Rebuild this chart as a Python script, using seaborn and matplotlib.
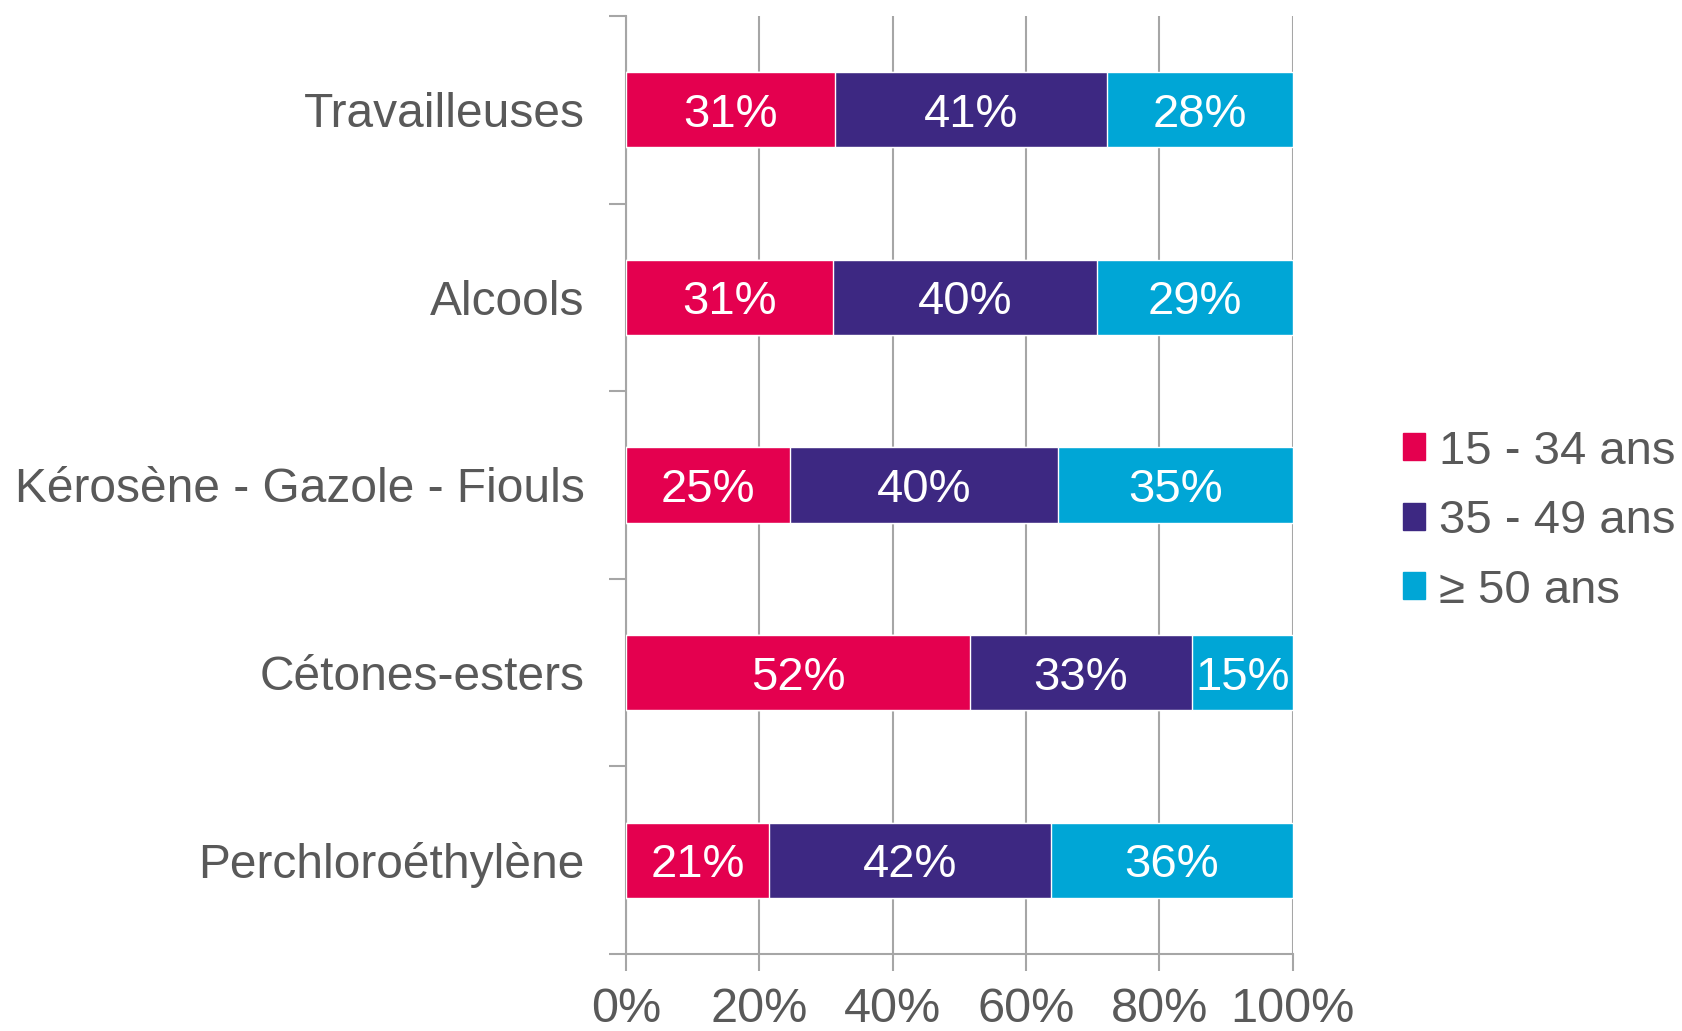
import matplotlib
matplotlib.use("Agg")
import matplotlib.pyplot as plt
import matplotlib.patches as mpatches
from matplotlib.ticker import FixedLocator, PercentFormatter
import seaborn as sns
import numpy as np
import pandas as pd

# Data (percent)
categories = ["Travailleuses", "Alcools", "Kérosène - Gazole - Fiouls",
              "Cétones-esters", "Perchloroéthylène"]
age_15_34 = [31.4, 31.0, 24.6, 51.6, 21.4]
age_35_49 = [40.7, 39.6, 40.2, 33.3, 42.3]
age_50_plus = [27.9, 29.4, 35.2, 15.1, 36.3]
series_names = ["15 - 34 ans", "35 - 49 ans", "≥ 50 ans"]
colors = ["#E4004F", "#3D2882", "#00A6D6"]
x_ticks = [0, 20, 40, 60, 80, 100]

TEXT = "#595959"
GRID = "#A6A6A6"

sns.set_theme(style="white")
plt.rcParams["font.family"] = ["Liberation Sans", "DejaVu Sans"]

series = [age_15_34, age_35_49, age_50_plus]
cum = np.cumsum(np.array(series), axis=0)

fig = plt.figure(figsize=(16.83, 10.31), dpi=100)
ax = fig.add_axes([0.372, 0.0747, 0.396, 0.9098])

# stacked bars: draw cumulative totals from the largest down
for i in reversed(range(len(series))):
    df = pd.DataFrame({"cat": categories, "val": cum[i]})
    sns.barplot(data=df, x="val", y="cat", color=colors[i], saturation=1,
                width=0.4, orient="h", ax=ax, zorder=3)

# value labels
for i, vals in enumerate(series):
    for j, v in enumerate(vals):
        ax.text(cum[i][j] - v / 2, j, f"{v:.0f}%", ha="center",
                va="center_baseline", color="white", fontsize=34, zorder=4)

ax.set_xlim(0, 100)
ax.set_ylim(4.5, -0.5)
ax.xaxis.set_major_locator(FixedLocator(x_ticks))
ax.xaxis.set_major_formatter(PercentFormatter(decimals=0))
ax.grid(axis="x", color=GRID, linewidth=1.5, zorder=0)
ax.grid(axis="y", visible=False)
ax.set_xlabel("")
ax.set_ylabel("")

for side in ["top", "right"]:
    ax.spines[side].set_visible(False)
for side in ["left", "bottom"]:
    ax.spines[side].set_color(GRID)
    ax.spines[side].set_linewidth(1.5)

ax.tick_params(axis="x", direction="out", length=12, width=1.5, color=GRID,
               labelsize=35, labelcolor=TEXT, pad=12, bottom=True)
ax.tick_params(axis="y", which="major", length=0, labelsize=34.5,
               labelcolor=TEXT, pad=30)
ax.yaxis.set_minor_locator(FixedLocator(np.arange(-0.5, len(categories), 1.0)))
ax.tick_params(axis="y", which="minor", direction="out", length=12, width=1.5,
               color=GRID, left=True)

handles = [mpatches.Patch(color=c, label=n) for c, n in zip(colors, series_names)]
fig.legend(handles=handles, loc="center left", bbox_to_anchor=(0.8335, 0.4945),
           frameon=False, fontsize=34, labelcolor=TEXT, handlelength=0.48,
           handleheight=0.5, handletextpad=0.28, labelspacing=0.54,
           borderaxespad=0, borderpad=0)

fig.savefig("out.png", dpi=100)
